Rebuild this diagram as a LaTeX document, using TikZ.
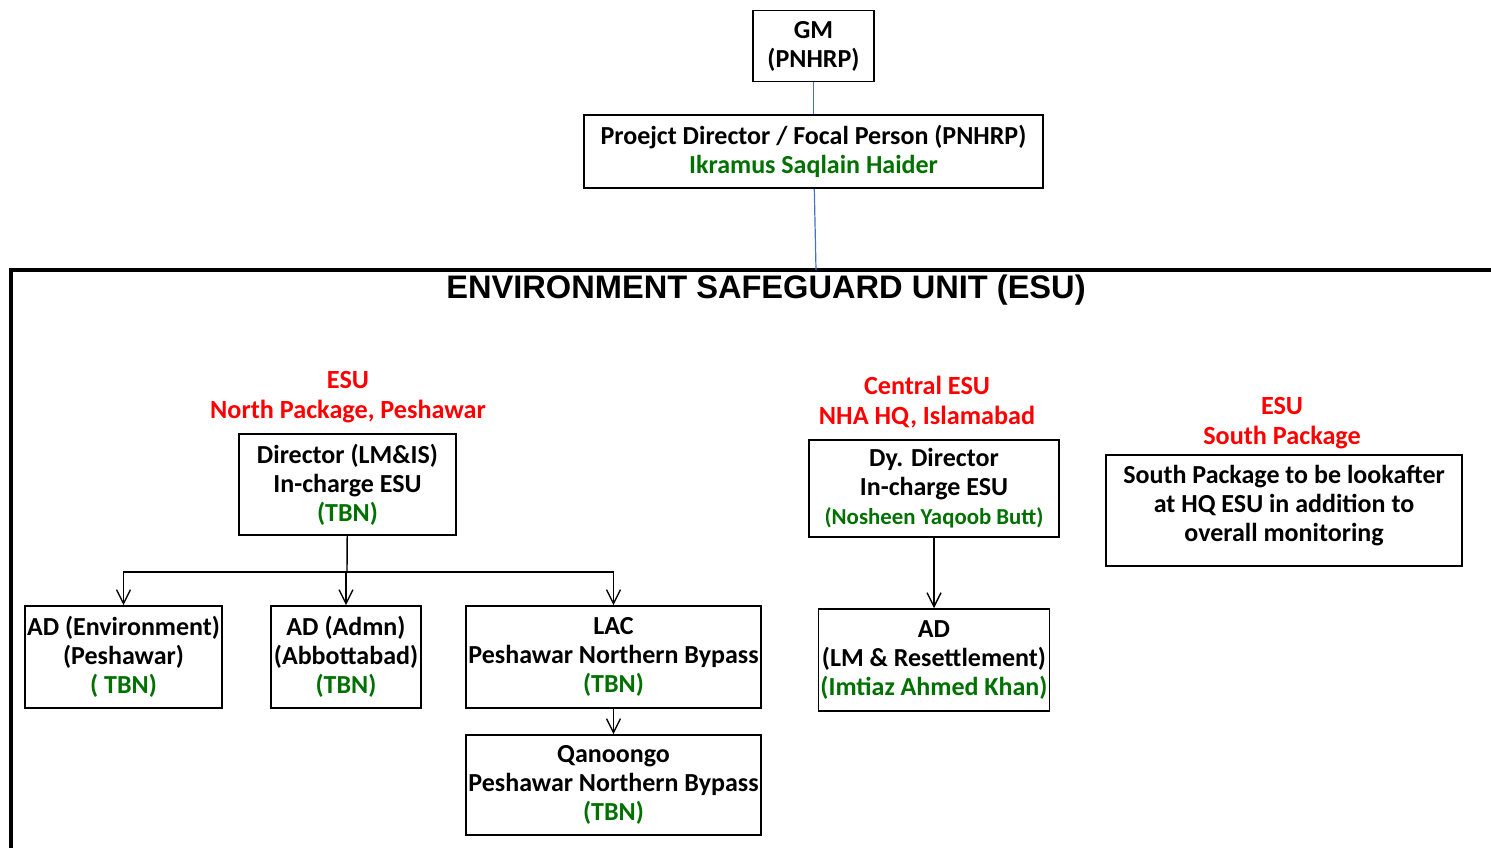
\documentclass[tikz,border=0pt]{standalone}
\usepackage{fontspec}
\setmainfont{Carlito}
\newfontfamily\headfont{Liberation Sans}
\usetikzlibrary{arrows.meta}

\definecolor{nhagreen}{RGB}{0,112,0}
\definecolor{linkblue}{RGB}{68,114,196}

\newcommand{\who}[1]{\textcolor{nhagreen}{#1}}

\tikzset{
  post/.style={draw, line width=0.8pt, inner sep=1pt, align=center,
    font=\bfseries\fontsize{13}{14.5}\selectfont},
  pkg/.style={text=red, align=center, inner sep=0pt,
    font=\bfseries\fontsize{13.1}{15}\selectfont},
  link/.style={draw=linkblue, line width=0.6pt},
  feed/.style={line width=0.7pt, -{Straight Barb[length=7pt,width=7pt]}},
}

\begin{document}
\begin{tikzpicture}[x=0.5pt,y=-0.5pt]
  \useasboundingbox (0,0) rectangle (1491,847);

  % top of the chain
  \node[post, minimum width=60.5pt, minimum height=35.5pt] (gm) at (813.5,46) {GM\\(PNHRP)};
  \node[post, minimum width=229.5pt, minimum height=36.5pt] (pd) at (813.5,151.5)
    {Proejct Director / Focal Person (PNHRP)\\\who{Ikramus Saqlain Haider}};

  % ESU frame
  \draw[line width=1.6pt] (11,860) -- (11,270) -- (1500,270);
  \coordinate (esutop) at (816,270);
  \node[font=\headfont\bfseries\fontsize{16.3}{19}\selectfont] (esu) at (766,290)
    {ENVIRONMENT SAFEGUARD UNIT (ESU)};

  \draw[link] (gm) -- (pd);
  \draw[link] (pd) -- (esutop);

  % north package
  \node[pkg] (north) at (348,397) {ESU\\North Package, Peshawar};
  \node[post, minimum width=108.5pt, minimum height=50.5pt] (dir) at (347.5,484.5)
    {Director (LM\&IS)\\In-charge ESU\\\who{(TBN)}};
  \node[post, minimum width=98.5pt, minimum height=51pt] (adenv) at (123.5,657)
    {AD (Environment)\\(Peshawar)\\\who{( TBN)}};
  \node[post, minimum width=75pt, minimum height=51pt] (adadmn) at (346,657)
    {AD (Admn)\\(Abbottabad)\\\who{(TBN)}};
  \node[post, minimum width=147.5pt, minimum height=51pt] (lac) at (613.5,657)
    {LAC\\Peshawar Northern Bypass\\\who{(TBN)}};
  \node[post, minimum width=147.5pt, minimum height=50pt] (qan) at (613.5,785)
    {Qanoongo\\Peshawar Northern Bypass\\\who{(TBN)}};

  \coordinate (bus) at (347,572);
  \draw[line width=0.7pt] (dir) -- (bus);
  \draw[feed] (bus) -| (adenv);
  \draw[feed] (bus) -| (adadmn);
  \draw[feed] (bus) -| (lac);
  \draw[feed] (lac) -- (qan);

  % central
  \node[pkg] (central) at (927,402) {Central ESU\\NHA HQ, Islamabad};
  \node[post, minimum width=125pt, minimum height=48.5pt] (dydir) at (934,488.5)
    {Dy. Director\\In-charge ESU\\\who{\fontsize{11.4}{13}\selectfont(Nosheen Yaqoob Butt)}};
  \node[post, minimum width=115pt, minimum height=51pt] (adlm) at (934,660)
    {AD\\(LM \& Resettlement)\\\who{(Imtiaz Ahmed Khan)}};
  \draw[feed] (dydir) -- (adlm);

  % south
  \node[pkg] (south) at (1282,423) {ESU\\South Package};
  \node[post, minimum width=178pt, minimum height=55.5pt, text depth=7pt] (sthbox) at (1284,510.5)
    {South Package to be lookafter\\at HQ ESU in addition to\\overall monitoring};
\end{tikzpicture}
\end{document}
